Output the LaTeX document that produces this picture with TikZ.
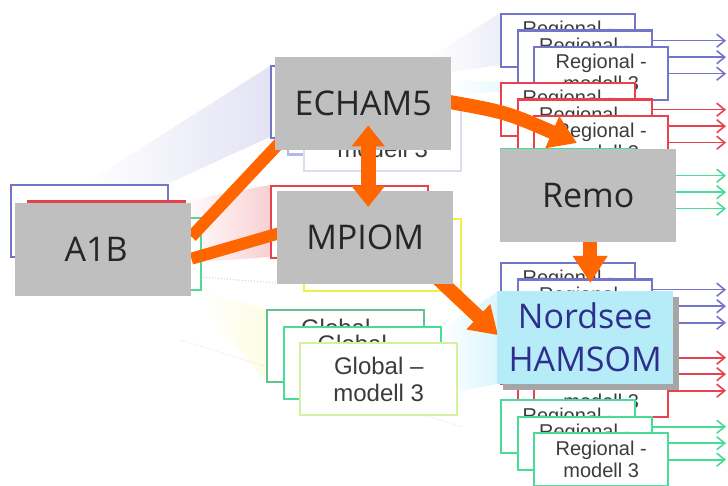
\documentclass[tikz,border=0pt]{standalone}
\usepackage{fontspec}
\setmainfont{Liberation Sans}
\newfontfamily\boxfont{Open Sans}
\usetikzlibrary{arrows.meta}

\definecolor{cPurple}{HTML}{7474C8}
\definecolor{cRed}{HTML}{E8424F}
\definecolor{cGreen}{HTML}{48DC96}
\definecolor{cYellow}{HTML}{F2EE4A}
\definecolor{cLav}{HTML}{B8B8E6}
\definecolor{cLavLight}{HTML}{DCDCF2}
\definecolor{cSea}{HTML}{62C292}
\definecolor{cLime}{HTML}{D4F0A0}
\definecolor{cModel}{HTML}{BFBFBF}
\definecolor{cShadow}{HTML}{A6A6A6}
\definecolor{cOrange}{HTML}{FF6600}
\definecolor{cCyan}{HTML}{B6ECF8}
\definecolor{cNavy}{HTML}{2E2E8E}
\definecolor{cInk}{HTML}{262626}
\definecolor{cNote}{HTML}{3C3C3C}

\pgfdeclarelayer{back}
\pgfdeclarelayer{stacks}
\pgfdeclarelayer{links}
\pgfsetlayers{back,stacks,links,main}

\tikzset{
  framebox/.style={draw=#1, line width=2.4pt, fill=white, anchor=north west, inner sep=0pt},
  regbox/.style={framebox=#1, minimum width=134pt, minimum height=53pt},
  globbox/.style={framebox=#1, minimum width=157pt, minimum height=72pt},
  regtext/.style={anchor=base, text=cNote, font=\fontsize{20}{22}\selectfont, inner sep=0pt},
  globtext/.style={anchor=base, text=cNote, font=\fontsize{24}{27}\selectfont, inner sep=0pt},
  model/.style={fill=cModel, anchor=north west, minimum width=176pt, minimum height=93pt,
    inner sep=0pt, text=cInk, font=\boxfont\fontsize{34}{43}\selectfont, align=center},
  outarrow/.style={draw=#1, line width=1.6pt, -{Straight Barb[length=8pt,width=13pt]}},
  feed/.style={draw=cOrange, line width=12pt},
  flow/.style={draw=cOrange, line width=14pt, -{Triangle[length=27pt,width=33pt]}},
  flowboth/.style={draw=cOrange, line width=15pt,
    {Triangle[length=21pt,width=32pt]}-{Triangle[length=21pt,width=32pt]}},
  trace/.style={draw=gray!35, dotted, line width=1pt},
}

% three stacked frames of a global model family
\newcommand\ModelStack[6]{%
  \node[globbox=#4] (#1-1) at (#2,#3) {};
  \node[globbox=#5] (#1-2) at ({#2+16.5},{#3+16.5}) {};
  \node[globbox=#6] (#1-3) at ({#2+33},{#3+33}) {};
}

% three stacked frames of regional models; #4..#7 are the printed lines
\newcommand\RegionalStack[7]{%
  \node[regbox=#3] (#1-1) at (500,#2) {};
  \node[regtext] (#1-1t) at ([yshift=-23pt]#1-1.north) {#4};
  \node[regbox=#3] (#1-2) at (516.5,{#2+16.5}) {};
  \node[regtext] (#1-2t) at ([yshift=-23pt]#1-2.north) {#5};
  \node[regbox=#3] (#1-3) at (533,{#2+33}) {};
  \node[regtext] (#1-3t) at ([yshift=-23pt]#1-3.north) {#6};
  \node[regtext] (#1-3u) at ([yshift=-45pt]#1-3.north) {#7};
}

% outputs of one regional stack
\newcommand\RegionalOut[2]{%
  \draw[outarrow=#2] (#1-1.east) -- (#1-1.east -| tipline);
  \draw[outarrow=#2] (#1-2.east) -- (#1-2.east -| tipline);
  \draw[outarrow=#2] (#1-3.east) -- (#1-3.east -| tipline);
}

\begin{document}
\begin{tikzpicture}[x=1pt,y=-1pt]
\useasboundingbox (0,0) rectangle (728,486);
\coordinate (tipline) at (726,0);

% faint projections between the families
\begin{pgfonlayer}{back}
  \shade[left color=white, right color=cLav!40] (85,184) -- (270,66) -- (270,137) -- (167,184) -- cycle;
  \shade[left color=white, right color=cRed!25] (183,201) -- (270,185) -- (270,257) -- (200,262) -- cycle;
  \shade[left color=white, right color=cLav!25] (430,57) -- (500,13) -- (500,65) -- (451,72) -- cycle;
  \shade[left color=white, right color=cCyan!30] (451,80) -- (500,82) -- (500,92) -- (451,94) -- cycle;
  \shade[left color=white, right color=cCyan!50] (440,330) -- (497,292) -- (497,384) -- (457,392) -- cycle;
  \shade[left color=white, right color=cYellow!15] (200,290) -- (266,309) -- (266,381) -- (200,305) -- cycle;
  \coordinate (tr1a) at (200,277);
  \coordinate (tr1b) at (277,283);
  \coordinate (tr2a) at (180,340);
  \coordinate (tr2b) at (463,427);
  \draw[trace] (tr1a) -- (tr1b);
  \draw[trace, draw=gray!22] (tr2a) -- (tr2b);
\end{pgfonlayer}

% model families
\begin{pgfonlayer}{stacks}
  \ModelStack{src}{10}{184}{cPurple}{cRed}{cGreen}
  \ModelStack{atm}{270}{65}{cPurple}{cLav}{cLavLight}
  \node[globtext] (atm-3u) at ([yshift=-60pt]atm-3.north) {modell 3};
  \ModelStack{ocn}{270}{185}{cRed}{cRed!40!cYellow}{cYellow}

  \node[globbox=cSea] (glob-1) at (266,309) {};
  \node[globtext] (glob-1t) at ([yshift=-27pt]glob-1.north) {Global –};
  \node[globbox=cGreen] (glob-2) at (282.5,325.5) {};
  \node[globtext] (glob-2t) at ([yshift=-27pt]glob-2.north) {Global –};
  \node[globbox=cLime] (glob-3) at (299,342) {};
  \node[globtext] (glob-3t) at ([yshift=-32pt]glob-3.north) {Global –};
  \node[globtext] (glob-3u) at ([yshift=-59pt]glob-3.north) {modell 3};

  \RegionalStack{ra}{13}{cPurple}{Regional -}{Regional -}{Regional -}{modell 3}
  \RegionalStack{rb}{82}{cRed}{Regional -}{Regional -}{Regional -}{modell 3}
  \RegionalStack{rc}{148}{cGreen}{}{}{}{}
  \RegionalStack{rd}{262}{cPurple}{Regional -}{Regional -}{}{}
  \RegionalStack{re}{330}{cRed}{}{}{}{modell 3}
  \RegionalStack{rf}{399}{cGreen}{Regional -}{Regional -}{Regional -}{modell 3}
\end{pgfonlayer}

\begin{pgfonlayer}{back}
  \RegionalOut{ra}{cPurple}
  \RegionalOut{rb}{cRed}
  \RegionalOut{rc}{cGreen}
  \RegionalOut{rd}{cPurple}
  \RegionalOut{re}{cRed}
  \RegionalOut{rf}{cGreen}
\end{pgfonlayer}

% models
\node[model] (a1b) at (15,203) {A1B\kern14pt};
\node[model] (echam) at (275,57) {ECHAM5};
\node[model] (mpiom) at (277,191) {MPIOM};
\node[model] (remo) at (500,149) {Remo};
\node[model, fill=cShadow] (nordshadow) at (503,297) {};
\node[model, fill=cCyan, text=cNavy] (nordsee) at (497,291) {Nordsee\\HAMSOM};

% couplings running under the model boxes
\coordinate (bendA) at (506,112);
\begin{pgfonlayer}{links}
  \draw[feed] ([yshift=13pt]a1b.east) -- ([xshift=4pt,yshift=7pt]echam.south west);
  \draw[feed] ([yshift=-9pt]a1b.east) -- ([xshift=4pt,yshift=5pt]mpiom.west);
  \draw[flow] ([xshift=-12pt,yshift=3.5pt]echam.east) .. controls (bendA) .. ([xshift=77pt,yshift=6pt]remo.north west);
  \draw[flow] ([xshift=2pt,yshift=10pt]remo.south) -- ([xshift=5pt,yshift=8pt]nordsee.north);
  \draw[flow] ([xshift=-20pt,yshift=10pt]mpiom.south east) -- ([xshift=1pt,yshift=2.5pt]nordsee.west);
\end{pgfonlayer}

\draw[flowboth] ([xshift=5pt,yshift=25pt]echam.south) -- ([xshift=3pt,yshift=-16pt]mpiom.north);
\end{tikzpicture}
\end{document}
